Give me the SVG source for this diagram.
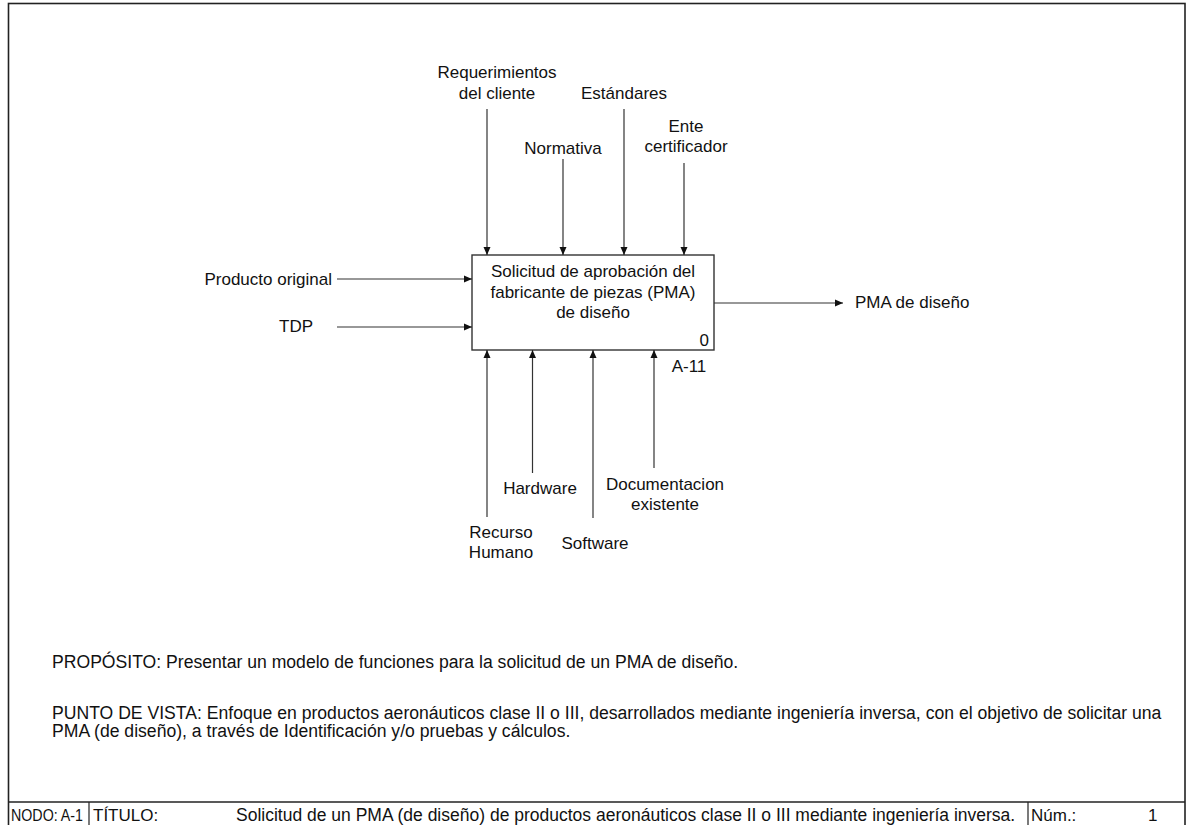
<svg xmlns="http://www.w3.org/2000/svg" width="1188" height="825" viewBox="0 0 1188 825">
<defs>
<marker id="ah" markerWidth="8" markerHeight="8" refX="8" refY="4" orient="auto" markerUnits="userSpaceOnUse">
<path d="M0,0.5 L8,4 L0,7.5 Z" fill="#111"/>
</marker>
<style>
text{font-family:"Liberation Sans",Arial,sans-serif;font-size:17px;fill:#111}
.c{text-anchor:middle}
.e{text-anchor:end}
.f{font-size:17.5px}
.n{font-size:17.6px}
.ln{stroke:#333;stroke-width:1.2;fill:none}
.frame{stroke:#222;stroke-width:1.6;fill:#fff}
</style>
</defs>
<rect x="0" y="0" width="1188" height="825" fill="#fff"/>
<g id="frame">
<rect class="frame" x="8.5" y="3.5" width="1176.5" height="830"/>
<line x1="8.5" y1="802" x2="1185" y2="802" stroke="#222" stroke-width="1.4"/>
<line x1="89" y1="802" x2="89" y2="825" stroke="#222" stroke-width="1.2"/>
<line x1="1028" y1="802" x2="1028" y2="825" stroke="#222" stroke-width="1.2"/>
<text x="11" y="821" font-size="15.5" textLength="72" lengthAdjust="spacingAndGlyphs">NODO:  A-1</text>
<text x="93" y="821" font-size="16.5">TÍTULO:</text>
<text class="f" x="236" y="821">Solicitud de un PMA (de diseño) de productos aeronáuticos clase II o III mediante ingeniería inversa.</text>
<text x="1031" y="821" font-size="16.5">Núm.:</text>
<text x="1148" y="821" font-size="16.5">1</text>
</g>
<g id="node-A0">
<rect x="472" y="255" width="242" height="95" fill="#fff" stroke="#333" stroke-width="1.4"/>
<text class="c" x="593" y="277" font-size="17.2">Solicitud de aprobación del</text>
<text class="c" x="593" y="298" font-size="17.2">fabricante de piezas (PMA)</text>
<text class="c" x="593" y="318" font-size="17.2">de diseño</text>
<text class="e" x="709" y="346">0</text>
<text class="c" x="689" y="372">A-11</text>
</g>
<g id="connectors">
<line class="ln" x1="487" y1="109" x2="487" y2="255" marker-end="url(#ah)"/>
<line class="ln" x1="563" y1="159" x2="563" y2="255" marker-end="url(#ah)"/>
<line class="ln" x1="624" y1="109" x2="624" y2="255" marker-end="url(#ah)"/>
<line class="ln" x1="684" y1="163" x2="684" y2="255" marker-end="url(#ah)"/>
<line class="ln" x1="337" y1="279" x2="472" y2="279" marker-end="url(#ah)"/>
<line class="ln" x1="337" y1="327" x2="472" y2="327" marker-end="url(#ah)"/>
<line class="ln" x1="714" y1="303" x2="843" y2="303" marker-end="url(#ah)"/>
<line class="ln" x1="487" y1="517" x2="487" y2="350" marker-end="url(#ah)"/>
<line class="ln" x1="532.5" y1="473" x2="532.5" y2="350" marker-end="url(#ah)"/>
<line class="ln" x1="593" y1="518" x2="593" y2="350" marker-end="url(#ah)"/>
<line class="ln" x1="654" y1="468" x2="654" y2="350" marker-end="url(#ah)"/>
</g>
<g id="labels">
<text class="c" x="497" y="78">Requerimientos</text>
<text class="c" x="497" y="99">del cliente</text>
<text class="c" x="624" y="99">Estándares</text>
<text class="c" x="563" y="154">Normativa</text>
<text class="c" x="686" y="132">Ente</text>
<text class="c" x="686" y="152">certificador</text>
<text class="e" x="332" y="285" font-size="17.5">Producto original</text>
<text class="e" x="313" y="332">TDP</text>
<text x="855" y="308" font-size="17.5">PMA de diseño</text>
<text class="c" x="501" y="538">Recurso</text>
<text class="c" x="501" y="558">Humano</text>
<text class="c" x="540" y="494">Hardware</text>
<text class="c" x="595" y="549">Software</text>
<text class="c" x="665" y="490">Documentacion</text>
<text class="c" x="665" y="510">existente</text>
</g>
<g id="notes">
<text class="n" x="52" y="668">PROPÓSITO: Presentar un modelo de funciones para la solicitud de un PMA de diseño.</text>
<text class="n" x="52" y="719">PUNTO DE VISTA: Enfoque en productos aeronáuticos clase II o III, desarrollados mediante ingeniería inversa, con el objetivo de solicitar una</text>
<text class="n" x="52" y="737">PMA (de diseño), a través de Identificación y/o pruebas y cálculos.</text>
</g>
</svg>
